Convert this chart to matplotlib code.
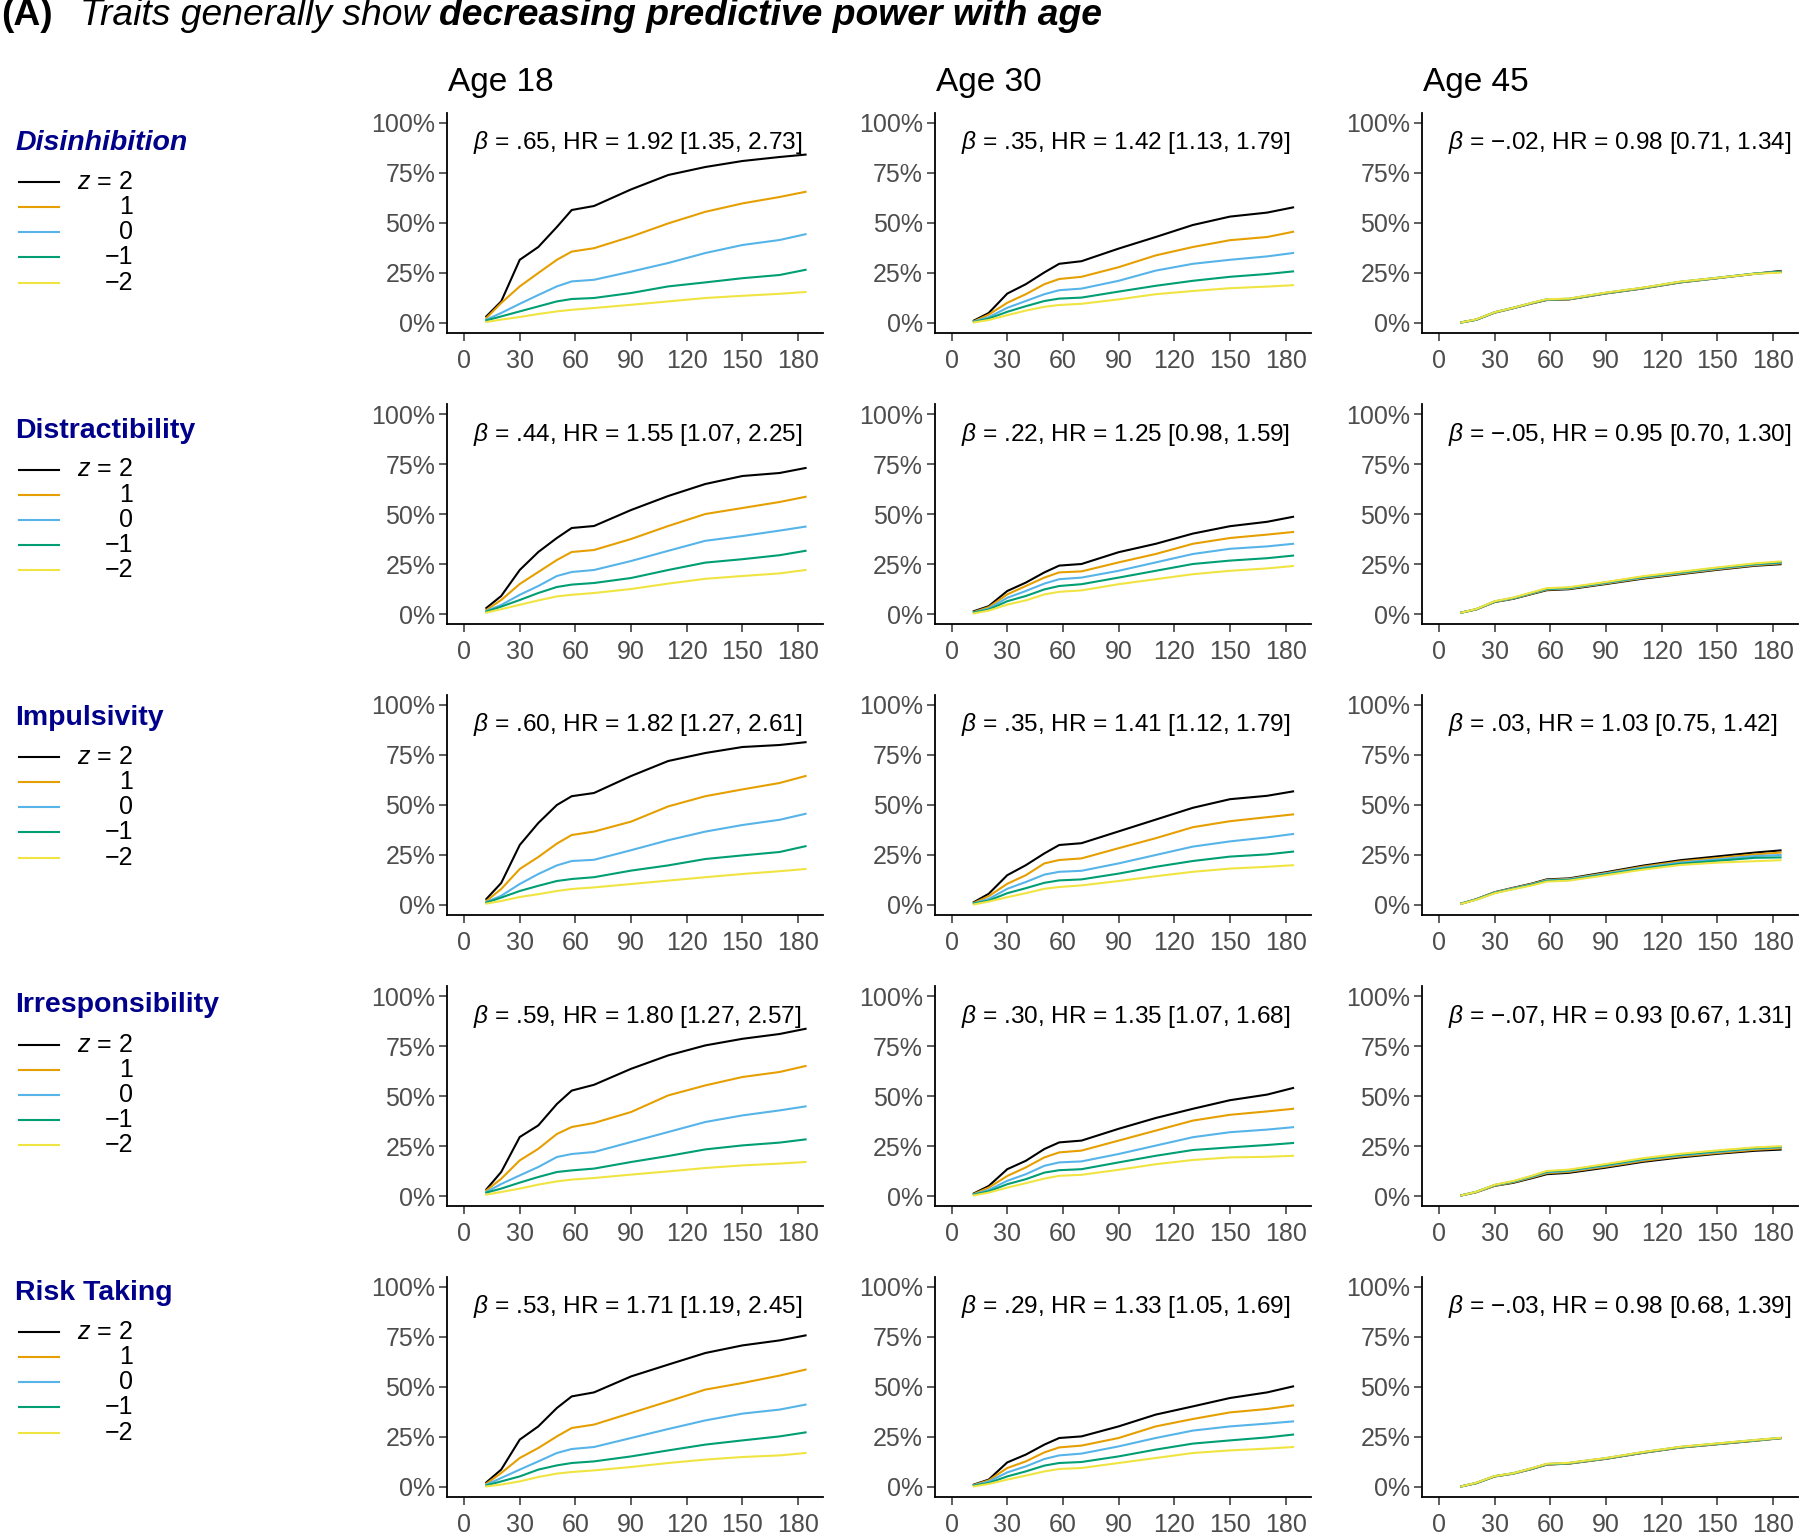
import matplotlib
matplotlib.use('Agg')
import matplotlib.pyplot as plt

plt.rcParams['font.family'] = 'Liberation Sans'
plt.rcParams['mathtext.fontset'] = 'custom'
plt.rcParams['mathtext.rm'] = 'Liberation Sans'
plt.rcParams['mathtext.it'] = 'Liberation Sans:italic'

# days since start, shared by every curve
days = [12, 20, 30, 40, 50, 58, 70, 90, 110, 130, 150, 170, 184]

traits = ['Disinhibition', 'Distractibility', 'Impulsivity', 'Irresponsibility', 'Risk Taking']
ages = ['Age 18', 'Age 30', 'Age 45']
z_labels = ['$z$ = 2', '1', '0', '\u22121', '\u22122']
colors = ['#000000', '#E69F00', '#56B4E9', '#009E73', '#F0E442']

# cumulative incidence (%) for z = 2, 1, 0, -1, -2
disinhibition_18 = [
    [3.3, 10.8, 31.6, 38.0, 48.0, 56.5, 58.5, 66.8, 74.0, 78.0, 81.0, 83.0, 84.2],
    [2.5, 10.0, 18.3, 25.0, 31.6, 35.7, 37.4, 43.2, 49.8, 55.6, 59.8, 63.0, 65.6],
    [1.7, 5.0, 9.6, 14.0, 18.3, 20.8, 21.6, 25.7, 30.0, 35.0, 39.0, 41.5, 44.4],
    [1.3, 3.3, 5.8, 8.3, 10.8, 12.0, 12.5, 15.0, 18.3, 20.3, 22.4, 24.0, 26.6],
    [0.5, 1.7, 3.0, 4.5, 5.8, 6.6, 7.5, 9.1, 10.8, 12.5, 13.6, 14.6, 15.5],
]
disinhibition_30 = [
    [1.2, 5.0, 14.7, 19.4, 25.3, 29.6, 30.9, 37.2, 43.0, 49.0, 53.2, 55.2, 57.8],
    [0.8, 4.2, 10.1, 14.4, 19.4, 22.0, 23.1, 27.9, 33.8, 38.0, 41.4, 43.0, 45.6],
    [0.7, 2.9, 7.6, 11.0, 14.4, 16.4, 17.2, 21.1, 26.2, 29.6, 31.6, 33.3, 35.0],
    [0.5, 2.2, 5.6, 8.4, 11.0, 12.2, 12.7, 15.7, 18.6, 21.1, 23.1, 24.5, 25.8],
    [0.3, 1.5, 3.9, 6.2, 8.1, 9.0, 9.6, 11.8, 14.4, 16.0, 17.4, 18.2, 18.9],
]
disinhibition_45 = [
    [0.3, 1.6, 5.2, 7.4, 9.8, 11.5, 11.8, 14.8, 17.3, 20.3, 22.4, 24.6, 26.0],
    [0.3, 1.7, 5.3, 7.5, 9.9, 11.6, 11.9, 14.9, 17.4, 20.4, 22.5, 24.6, 25.7],
    [0.3, 1.7, 5.3, 7.5, 10.0, 11.7, 12.0, 15.0, 17.5, 20.5, 22.5, 24.7, 25.6],
    [0.3, 1.7, 5.4, 7.6, 10.0, 11.8, 12.1, 15.1, 17.6, 20.6, 22.6, 24.7, 25.5],
    [0.3, 1.8, 5.4, 7.6, 10.1, 11.9, 12.2, 15.2, 17.7, 20.7, 22.6, 24.6, 25.2],
]
distractibility_18 = [
    [3.0, 9.0, 22.0, 31.0, 38.0, 43.0, 44.0, 52.0, 59.0, 65.0, 69.0, 70.5, 73.0],
    [2.0, 7.0, 15.0, 21.0, 27.0, 31.0, 32.0, 37.5, 44.0, 50.0, 53.0, 56.0, 58.6],
    [1.5, 4.5, 9.6, 14.0, 19.0, 21.0, 22.0, 26.5, 31.6, 36.6, 39.0, 41.7, 43.7],
    [1.2, 3.7, 7.0, 10.5, 13.5, 14.7, 15.5, 18.0, 22.0, 25.7, 27.4, 29.4, 31.6],
    [0.7, 2.4, 4.6, 6.8, 8.8, 9.6, 10.5, 12.5, 15.2, 17.6, 19.0, 20.3, 22.0],
]
distractibility_30 = [
    [1.4, 3.9, 11.5, 15.7, 20.8, 24.2, 25.0, 30.9, 35.1, 40.2, 43.9, 46.1, 48.6],
    [1.0, 3.4, 9.8, 14.0, 18.2, 20.8, 21.3, 25.8, 30.0, 35.1, 38.0, 39.7, 41.0],
    [0.8, 2.7, 8.1, 11.5, 15.2, 17.4, 18.2, 21.6, 25.8, 30.0, 32.6, 33.8, 35.1],
    [0.7, 2.2, 6.4, 9.0, 12.3, 14.0, 14.9, 18.2, 21.6, 25.0, 26.7, 27.9, 29.2],
    [0.3, 1.7, 4.7, 6.8, 9.8, 11.1, 11.8, 14.9, 17.4, 19.9, 21.6, 22.8, 24.0],
]
distractibility_45 = [
    [0.7, 2.3, 6.0, 7.6, 10.0, 11.9, 12.4, 15.0, 17.7, 19.9, 22.1, 24.1, 24.9],
    [0.7, 2.3, 6.1, 7.8, 10.2, 12.2, 12.7, 15.3, 18.0, 20.2, 22.4, 24.4, 25.3],
    [0.7, 2.4, 6.2, 7.9, 10.4, 12.4, 12.9, 15.5, 18.3, 20.5, 22.7, 24.7, 25.6],
    [0.7, 2.4, 6.3, 8.0, 10.6, 12.6, 13.1, 15.8, 18.6, 20.8, 23.0, 25.0, 25.9],
    [0.7, 2.5, 6.4, 8.2, 10.8, 12.9, 13.4, 16.0, 18.9, 21.1, 23.3, 25.3, 26.3],
]
impulsivity_18 = [
    [3.0, 11.0, 30.0, 41.0, 50.0, 54.4, 56.0, 64.5, 72.0, 76.0, 79.0, 80.0, 81.4],
    [2.0, 8.0, 18.0, 24.0, 30.7, 35.0, 36.7, 41.7, 49.3, 54.4, 57.8, 61.0, 64.5],
    [1.5, 4.6, 10.5, 15.5, 19.8, 22.0, 22.6, 27.4, 32.4, 36.7, 40.0, 42.6, 45.6],
    [1.2, 3.7, 7.0, 9.6, 12.0, 13.0, 13.9, 17.2, 19.8, 23.0, 24.8, 26.5, 29.4],
    [0.7, 2.0, 4.0, 5.4, 7.0, 8.0, 8.8, 10.5, 12.2, 13.9, 15.5, 16.9, 18.0],
]
impulsivity_30 = [
    [1.4, 5.6, 14.9, 19.9, 25.8, 30.0, 30.9, 36.8, 42.7, 48.6, 52.9, 54.6, 56.8],
    [1.0, 4.4, 10.6, 14.9, 20.8, 22.5, 23.3, 28.4, 33.4, 38.9, 41.9, 43.9, 45.3],
    [0.8, 3.0, 8.1, 11.5, 15.2, 16.6, 17.1, 20.8, 25.0, 29.2, 31.8, 33.8, 35.5],
    [0.7, 2.2, 5.9, 8.4, 11.1, 12.3, 12.8, 15.7, 19.1, 22.0, 24.2, 25.3, 26.7],
    [0.3, 1.7, 3.9, 5.9, 8.1, 9.0, 9.8, 12.0, 14.4, 16.6, 18.2, 19.1, 19.9],
]
impulsivity_45 = [
    [0.7, 2.9, 6.4, 8.6, 10.7, 12.8, 13.3, 16.4, 19.7, 22.4, 24.3, 26.2, 27.3],
    [0.7, 2.8, 6.3, 8.4, 10.5, 12.5, 13.0, 16.0, 19.2, 21.8, 23.5, 25.3, 26.2],
    [0.7, 2.8, 6.2, 8.3, 10.3, 12.3, 12.8, 15.7, 18.7, 21.2, 22.8, 24.5, 25.0],
    [0.7, 2.7, 6.1, 8.1, 10.1, 12.0, 12.5, 15.3, 18.2, 20.6, 22.1, 23.6, 23.8],
    [0.6, 2.6, 5.9, 7.9, 9.8, 11.7, 12.2, 14.9, 17.7, 20.0, 21.2, 21.9, 22.4],
]
irresponsibility_18 = [
    [3.3, 12.0, 29.5, 35.3, 46.0, 52.7, 55.6, 63.6, 70.3, 75.3, 78.6, 81.0, 83.6],
    [2.8, 8.6, 17.8, 23.6, 31.0, 34.5, 36.5, 42.0, 50.3, 55.3, 59.5, 62.0, 65.0],
    [2.0, 6.0, 10.3, 14.5, 19.5, 21.0, 22.0, 27.0, 32.0, 37.0, 40.3, 42.8, 44.8],
    [1.7, 3.7, 6.7, 9.5, 12.0, 12.8, 13.7, 17.0, 20.0, 23.3, 25.3, 26.7, 28.3],
    [0.7, 2.0, 3.7, 5.7, 7.3, 8.2, 9.0, 10.7, 12.3, 14.0, 15.3, 16.2, 17.0],
]
irresponsibility_30 = [
    [1.3, 5.0, 13.4, 17.6, 23.5, 26.8, 27.7, 33.6, 39.0, 43.6, 47.9, 50.7, 54.0],
    [1.0, 4.2, 10.0, 14.3, 19.3, 21.8, 22.7, 27.7, 32.7, 37.7, 40.6, 42.3, 43.6],
    [0.8, 3.0, 7.6, 10.9, 15.1, 16.8, 17.3, 21.0, 25.2, 29.4, 31.9, 33.2, 34.4],
    [0.7, 2.3, 5.9, 8.4, 11.7, 12.9, 13.4, 16.8, 20.1, 23.0, 24.3, 25.5, 26.5],
    [0.3, 1.7, 4.2, 6.4, 8.7, 10.1, 10.6, 13.1, 15.9, 18.0, 19.3, 19.6, 20.1],
]
irresponsibility_45 = [
    [0.3, 1.9, 5.1, 6.6, 8.9, 10.9, 11.6, 14.2, 17.1, 19.3, 21.1, 22.6, 23.2],
    [0.3, 1.9, 5.2, 6.9, 9.3, 11.4, 12.1, 14.7, 17.6, 19.8, 21.5, 23.1, 23.8],
    [0.3, 2.0, 5.4, 7.1, 9.6, 11.8, 12.5, 15.2, 18.1, 20.3, 22.0, 23.6, 24.3],
    [0.3, 2.1, 5.5, 7.3, 9.9, 12.2, 12.9, 15.6, 18.5, 20.7, 22.4, 24.0, 24.6],
    [0.3, 2.1, 5.6, 7.5, 10.1, 12.5, 13.2, 16.0, 18.9, 21.1, 22.8, 24.3, 24.9],
]
risk_taking_18 = [
    [2.3, 8.7, 23.7, 30.3, 39.5, 45.3, 47.3, 55.3, 61.2, 67.0, 70.8, 73.3, 75.8],
    [1.7, 7.0, 14.5, 19.5, 25.3, 29.5, 31.2, 37.0, 42.8, 48.7, 52.0, 55.7, 58.7],
    [1.2, 4.5, 8.7, 12.8, 17.0, 19.0, 20.0, 24.5, 29.0, 33.3, 36.7, 38.7, 41.2],
    [0.8, 2.8, 5.3, 8.7, 10.8, 12.0, 12.8, 15.3, 18.3, 21.2, 23.3, 25.3, 27.3],
    [0.3, 1.2, 2.8, 5.0, 6.7, 7.5, 8.3, 10.0, 12.0, 13.7, 15.0, 15.8, 17.0],
]
risk_taking_30 = [
    [1.2, 3.7, 12.3, 16.2, 21.2, 24.5, 25.3, 30.3, 36.2, 40.3, 44.5, 47.3, 50.3],
    [1.0, 3.3, 9.5, 12.8, 17.3, 19.8, 20.7, 24.5, 30.3, 34.0, 37.3, 39.0, 40.8],
    [0.8, 2.7, 7.3, 10.3, 14.0, 15.8, 16.7, 20.3, 24.5, 28.2, 30.3, 31.7, 32.8],
    [0.7, 2.0, 5.3, 7.8, 10.7, 12.0, 12.5, 15.3, 18.7, 21.7, 23.3, 24.8, 26.2],
    [0.3, 1.5, 3.7, 5.7, 7.8, 9.0, 9.5, 12.0, 14.5, 17.0, 18.3, 19.2, 20.0],
]
risk_taking_45 = [
    [0.3, 1.9, 5.3, 6.7, 9.0, 11.2, 11.7, 14.1, 17.1, 19.7, 21.4, 23.1, 24.4],
    [0.3, 2.0, 5.3, 6.7, 9.1, 11.3, 11.8, 14.2, 17.2, 19.8, 21.5, 23.2, 24.4],
    [0.3, 2.0, 5.4, 6.8, 9.2, 11.4, 11.9, 14.3, 17.3, 19.9, 21.6, 23.3, 24.5],
    [0.3, 2.0, 5.4, 6.9, 9.3, 11.5, 12.0, 14.4, 17.4, 20.0, 21.7, 23.4, 24.5],
    [0.3, 2.1, 5.5, 6.9, 9.4, 11.6, 12.1, 14.5, 17.5, 20.1, 21.8, 23.5, 24.6],
]

betas = [['.65', '.35', '\u2212.02'],
         ['.44', '.22', '\u2212.05'],
         ['.60', '.35', '.03'],
         ['.59', '.30', '\u2212.07'],
         ['.53', '.29', '\u2212.03']]
hrs = [[1.92, 1.42, 0.98],
       [1.55, 1.25, 0.95],
       [1.82, 1.41, 1.03],
       [1.80, 1.35, 0.93],
       [1.71, 1.33, 0.98]]
ci_low = [[1.35, 1.13, 0.71],
          [1.07, 0.98, 0.70],
          [1.27, 1.12, 0.75],
          [1.27, 1.07, 0.67],
          [1.19, 1.05, 0.68]]
ci_high = [[2.73, 1.79, 1.34],
           [2.25, 1.59, 1.30],
           [2.61, 1.79, 1.42],
           [2.57, 1.68, 1.31],
           [2.45, 1.69, 1.39]]

grid = [[disinhibition_18, disinhibition_30, disinhibition_45],
        [distractibility_18, distractibility_30, distractibility_45],
        [impulsivity_18, impulsivity_30, impulsivity_45],
        [irresponsibility_18, irresponsibility_30, irresponsibility_45],
        [risk_taking_18, risk_taking_30, risk_taking_45]]

W, H = 1800, 1534
fig = plt.figure(figsize=(W / 100, H / 100), dpi=100)

# overlay in pixel units for title and side legends
bg = fig.add_axes([0, 0, 1, 1])
bg.set_xlim(0, W)
bg.set_ylim(H, 0)
bg.axis('off')

tick_grey = '#4D4D4D'
for r in range(5):
    for c in range(3):
        left = 447 + 487.5 * c
        top = 113 + 291 * r
        ax = fig.add_axes([left / W, 1 - (top + 220) / H, 376 / W, 220 / H])
        for k in range(5):
            ax.plot(days, [v / 100 for v in grid[r][c][k]], color=colors[k], lw=1.5)
        ax.set_xlim(-9.2, 193.4)
        ax.set_ylim(-0.05, 1.05)
        ax.set_xticks(range(0, 181, 30))
        ax.set_yticks([0, 0.25, 0.5, 0.75, 1])
        ax.set_yticklabels(['0%', '25%', '50%', '75%', '100%'])
        ax.tick_params(labelsize=18, labelcolor=tick_grey, color='#333333',
                       length=5.5, width=1.1)
        ax.tick_params(axis='x', pad=6)
        ax.tick_params(axis='y', pad=3)
        for s in ['top', 'right']:
            ax.spines[s].set_visible(False)
        for s in ['left', 'bottom']:
            ax.spines[s].set_linewidth(1.3)
        ax.patch.set_alpha(0)
        ax.text(5, 0.9, r'$\beta$ = %s, HR = %.2f [%.2f, %.2f]'
                % (betas[r][c], hrs[r][c], ci_low[r][c], ci_high[r][c]),
                fontsize=17.6, va='center', ha='left')
        if r == 0:
            bg.text(left + 1, 98, ages[c], fontsize=24, va='bottom', ha='left')

# side legends
for r, name in enumerate(traits):
    y0 = 143 + 287.5 * r
    style = 'italic' if r == 0 else 'normal'
    bg.text(15, y0, name, fontsize=20.5, fontweight='bold', fontstyle=style,
            color='#00008B', va='center', ha='left')
    for k in range(5):
        yk = y0 + 39 + 25.15 * k
        bg.plot([19, 59], [yk, yk], color=colors[k], lw=1.5)
        bg.text(133, yk, z_labels[k], fontsize=18, va='center', ha='right')

# panel title built from three font styles
renderer = fig.canvas.get_renderer()
pieces = [('(A)', 'normal', 'bold', 27),
          ('Traits generally show', 'italic', 'normal', 10),
          ('decreasing predictive power with age', 'italic', 'bold', 0)]
x = 1
for txt, style, weight, gap in pieces:
    t = bg.text(x, 25, txt, fontsize=26.8, fontstyle=style, fontweight=weight,
                va='baseline', ha='left')
    bb = t.get_window_extent(renderer)
    x += bb.width + gap

fig.savefig('out.png', dpi=100)
